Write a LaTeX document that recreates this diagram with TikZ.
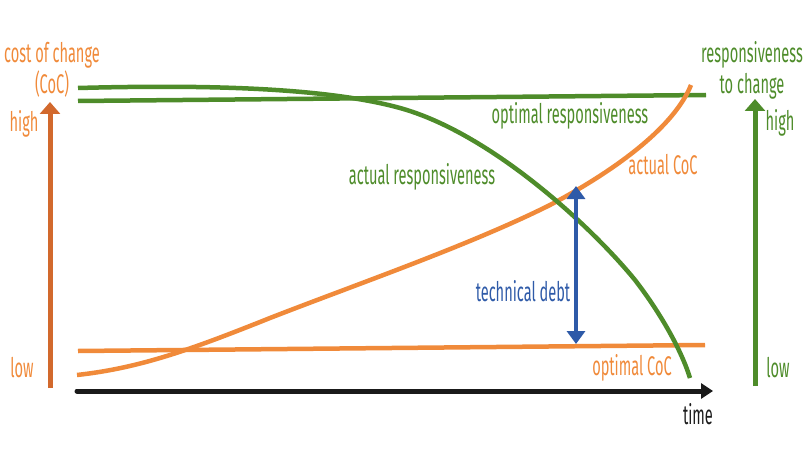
\documentclass[tikz,border=0pt]{standalone}
\usepackage{fontspec}
\setmainfont{Fira Sans}[FakeStretch=0.54]
\usetikzlibrary{arrows.meta}
\definecolor{cgreen}{HTML}{4E8C2A}
\definecolor{corange}{HTML}{F08A3A}
\definecolor{caxis}{HTML}{D2692D}
\definecolor{cblue}{HTML}{2E5AA8}
\definecolor{cblack}{HTML}{1A1A1A}
\tikzset{
  lbl/.style={font=\fontsize{27}{31}\selectfont, inner sep=0pt},
  olbl/.style={lbl, text=corange},
  glbl/.style={lbl, text=cgreen},
  curve/.style={line width=4.5pt},
  axisarrow/.style={line width=5pt, -{Triangle[width=20pt,length=12pt]}},
}
\begin{document}
\begin{tikzpicture}[x=1pt,y=-1pt]
\useasboundingbox (0,0) rectangle (810,449);
% coordinates
\coordinate (ob) at (50,388);
\coordinate (ot) at (50,102);
\coordinate (gb) at (755,386);
\coordinate (gt) at (755,99);
\coordinate (ts) at (77,391);
\coordinate (te) at (713,391);
\coordinate (ar0) at (78,88);
\coordinate (ar1) at (690,378);
\coordinate (or0) at (78,101);
\coordinate (or1) at (706,95);
\coordinate (ac0) at (77,375);
\coordinate (ac1) at (691,85);
\coordinate (oc0) at (78,351);
\coordinate (oc1) at (705,345);
\coordinate (td0) at (576,186);
\coordinate (td1) at (576,344);
% labels
\node[olbl, align=center] (coc) at (52,70) {cost of change\\[0pt](CoC)};
\node[olbl] (lhigh) at (24,124) {high};
\node[olbl] (llow) at (22,368) {low};
\node[glbl, align=center] (rtc) at (752,70) {responsiveness\\[0pt]to change};
\node[glbl] (rhigh) at (780,123) {high};
\node[glbl] (rlow) at (778,368) {low};
\node[glbl] (optr) at (570,116) {optimal responsiveness};
\node[glbl] (actr) at (422,177) {actual responsiveness};
\node[olbl] (actc) at (663,165) {actual CoC};
\node[olbl] (optc) at (632,368) {optimal CoC};
\node[lbl, text=cblue] (tdl) at (523,291) {technical debt};
\node[lbl, text=cblack] (time) at (698,414) {time};
% axes
\draw[axisarrow, draw=caxis, fill=caxis] (ob) -- (ot);
\draw[axisarrow, draw=cgreen, fill=cgreen] (gb) -- (gt);
\draw[line width=5pt, draw=cblack, line cap=round, -{Triangle[width=15pt,length=12pt]}] (ts) -- (te);
% optimal lines
\draw[curve, cgreen] (or0) -- (or1);
\draw[curve, corange] (oc0) -- (oc1);
% actual CoC
\draw[curve, corange] (ac0) .. controls (140,368) and (190,350) .. (270,318)
  .. controls (360,283) and (470,245) .. (550,205)
  .. controls (620,168) and (675,125) .. (ac1);
% actual responsiveness
\draw[curve, cgreen] (ar0) .. controls (190,85) and (320,86) .. (400,108)
  .. controls (490,133) and (590,225) .. (635,280)
  .. controls (662,315) and (682,352) .. (ar1);
% technical debt
\draw[line width=4.5pt, cblue, {Triangle[width=18pt,length=13pt]}-{Triangle[width=18pt,length=13pt]}] (td0) -- (td1);
\end{tikzpicture}
\end{document}
